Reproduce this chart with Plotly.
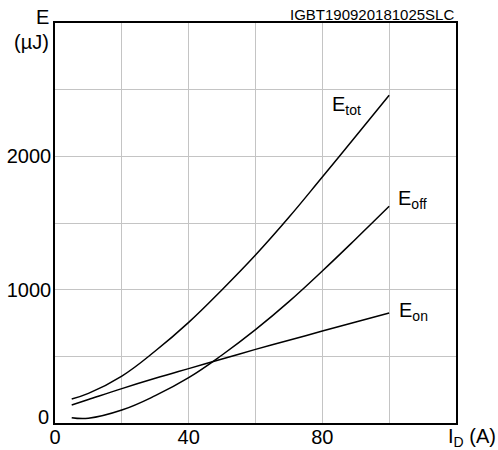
import plotly.graph_objects as go

# Data
current_A = [5, 10, 20, 30, 40, 50, 60, 70, 80, 90, 100]
E_on = [135, 176, 258, 335, 408, 480, 552, 620, 690, 757, 825]
E_off = [40, 36, 97, 205, 340, 510, 700, 910, 1140, 1380, 1625]
E_tot = [180, 222, 352, 540, 755, 1000, 1260, 1543, 1845, 2150, 2458]

x_tickvals = [0, 40, 80]
x_ticktext = ["0", "40", "80"]
y_tickvals = [1000, 2000]
y_ticktext = ["1000", "2000"]
y_zero_label = "0"

FONT = "Liberation Sans, Arial, sans-serif"

fig = go.Figure()
for ys in (E_tot, E_off, E_on):
    fig.add_trace(go.Scatter(x=current_A, y=ys, mode="lines",
                             line=dict(color="black", width=1.5, shape="spline", smoothing=1.2),
                             showlegend=False, hoverinfo="skip"))

fig.update_layout(
    width=498, height=450,
    margin=dict(l=55, r=42, t=23, b=27, autoexpand=False),
    paper_bgcolor="white", plot_bgcolor="white",
    font=dict(family=FONT, color="black", size=20),
    xaxis=dict(range=[0, 120], showgrid=True, gridcolor="#c4c4c4", gridwidth=1,
               tickmode="array", tickvals=x_tickvals, ticktext=x_ticktext,
               showline=True, linecolor="black", linewidth=1.5, mirror=True,
               ticks="", zeroline=False, tickfont=dict(size=20), automargin=False,
               ticklabelstandoff=-5),
    yaxis=dict(range=[0, 3000], showgrid=True, gridcolor="#c4c4c4", gridwidth=1,
               tickmode="array", tickvals=y_tickvals, ticktext=y_ticktext,
               showline=True, linecolor="black", linewidth=1.5, mirror=True,
               ticks="", zeroline=False, tickfont=dict(size=20), automargin=False,
               ticklabelstandoff=-2),
)
fig.update_xaxes(minor=dict(tickvals=[20, 60, 100, 120], showgrid=True, gridcolor="#c4c4c4", gridwidth=1))
fig.update_yaxes(minor=dict(tickvals=[0, 500, 1500, 2500, 3000], showgrid=True, gridcolor="#c4c4c4", gridwidth=1))

ann = [
    dict(text="E", x=-0.01, y=1.015, xanchor="right", yanchor="middle", font=dict(size=20)),
    dict(text="(µJ)", x=-0.01, y=0.9525, xanchor="right", yanchor="middle", font=dict(size=20)),
    dict(text="IGBT190920181025SLC", x=1.0, y=1.0225, xanchor="right", yanchor="middle", font=dict(size=15)),
    dict(text="I<sub>D</sub> (A)", x=0.975, y=-0.037, xanchor="left", yanchor="middle", font=dict(size=20)),
    dict(text=y_zero_label, x=-0.01, y=0.015, xanchor="right", yanchor="middle", font=dict(size=20)),
]
for a in ann:
    fig.add_annotation(xref="paper", yref="paper", showarrow=False, **a)

labels = [("E<sub>tot</sub>", 82.4, 2380), ("E<sub>off</sub>", 102.0, 1680), ("E<sub>on</sub>", 102.3, 840)]
for t, x, y in labels:
    fig.add_annotation(text=t, x=x, y=y, xref="x", yref="y", showarrow=False,
                       xanchor="left", yanchor="middle", font=dict(size=20))

fig.write_html("out.html", config={"displayModeBar": False},
               post_script="document.body.style.margin='0';")
